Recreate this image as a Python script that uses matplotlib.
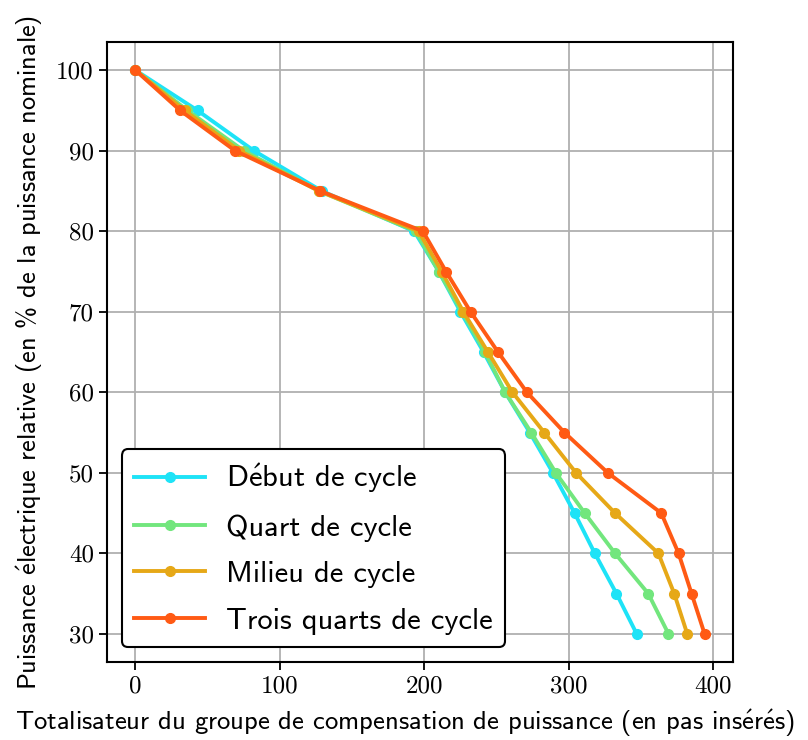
import matplotlib.pyplot as plt
import numpy as np

# données : puissance relative (%) et totalisateur (pas insérés)
puissance = [100, 95, 90, 85, 80, 75, 70, 65, 60, 55, 50, 45, 40, 35, 30]
debut = [0, 43, 82, 129, 193, 210, 225, 241, 256, 273, 289, 304, 318, 333, 347]
quart = [0, 36, 75, 127, 194, 210, 226, 242, 256, 274, 291, 311, 332, 355, 369]
milieu = [0, 34, 72, 127, 196, 212, 227, 244, 261, 283, 305, 332, 362, 373, 382]
trois_quarts = [0, 31, 69, 128, 199, 215, 232, 251, 271, 297, 327, 364, 376, 385, 394]

labels = [r"D$\mathsf{\acute{e}}$but de cycle", "Quart de cycle", "Milieu de cycle", "Trois quarts de cycle"]
couleurs = ["#1ee3f7", "#72e67d", "#e6a817", "#ff5a14"]

plt.rcParams['font.family'] = ['cmss10', 'DejaVu Sans']
plt.rcParams['mathtext.fontset'] = 'cm'
plt.rcParams['axes.unicode_minus'] = False

fig = plt.figure(figsize=(8.08, 7.40), dpi=100)
ax = fig.add_axes([0.1324, 0.1054, 0.7748, 0.8378])

for serie, lab, c in zip([debut, quart, milieu, trois_quarts], labels, couleurs):
    ax.plot(serie, puissance, color=c, linewidth=2.8, marker='o', markersize=7, label=lab)

ax.grid(True, color='#b0b0b0', linewidth=1.3)
ax.set_axisbelow(True)
for s in ax.spines.values():
    s.set_linewidth(1.5)
ax.tick_params(width=1.3, length=6, labelsize=18)

ax.set_yticks([30, 40, 50, 60, 70, 80, 90, 100])
ax.set_xticks([0, 100, 200, 300, 400])
for t in ax.get_xticklabels() + ax.get_yticklabels():
    t.set_fontfamily('cmr10')

ax.set_xlabel(r"Totalisateur du groupe de compensation de puissance (en pas ins$\mathsf{\acute{e}}$r$\mathsf{\acute{e}}$s)",
              fontsize=19.2)
ax.xaxis.set_label_coords(0.476, -0.074)
ax.set_ylabel(r"Puissance $\mathsf{\acute{e}}$lectrique relative (en % de la puissance nominale)", fontsize=19,
              labelpad=8)

leg = ax.legend(loc='lower left', fontsize=22, frameon=True, fancybox=True, framealpha=1,
                edgecolor='black', borderpad=0.4, handlelength=2.3, handletextpad=0.7,
                labelspacing=0.62)
leg.get_frame().set_linewidth(1.5)

fig.savefig("out.png", dpi=100)
